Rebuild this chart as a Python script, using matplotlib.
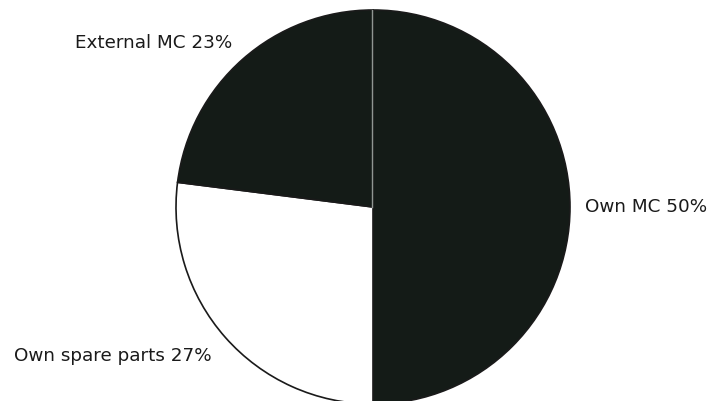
import matplotlib.pyplot as plt

# slice shares (percent), clockwise from 12 o'clock
labels = ["Own MC", "Own spare parts", "External MC"]
shares = [50, 27, 23]
colors = ["#141b17", "#ffffff", "#141b17"]

W, H = 716, 401
cx, cy, r = 373, H - 207, 197

fig = plt.figure(figsize=(W / 100, H / 100), dpi=100)
ax = fig.add_axes([0, 0, 1, 1])

wedges, _ = ax.pie(shares, colors=colors, startangle=90, counterclock=False,
                   center=(cx, cy), radius=r,
                   wedgeprops=dict(edgecolor="#1a1a1a", linewidth=1.2))

# pie() resets the limits, so set them afterwards
ax.set_xlim(0, W)
ax.set_ylim(0, H)
ax.set_aspect("equal")
ax.axis("off")

# faint seam between the two dark slices
ax.plot([cx - 1, cx - 1], [cy, cy + r], color="#8f9692", lw=1.0)

# label positions (pixel coords, top-left origin)
label_pos = [(585, 207), (14, 356), (75, 43)]
for name, val, (x, y) in zip(labels, shares, label_pos):
    ax.text(x, H - y, f"{name} {val}%", fontsize=13.2, family="DejaVu Sans",
            ha="left", va="center", color="#1a1a1a")

fig.savefig("out.png", dpi=100, facecolor="white")
